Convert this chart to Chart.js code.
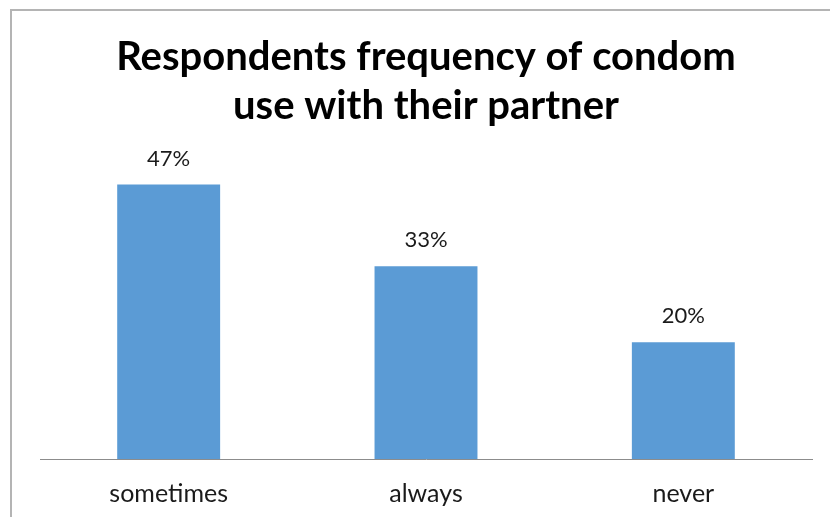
<!DOCTYPE html>
<html>
<head>
<meta charset="utf-8">
<script src="https://cdn.jsdelivr.net/npm/chart.js@4/dist/chart.umd.min.js"></script>
<style>
  html, body { margin: 0; padding: 0; background: #fff; overflow: hidden; }
  #frame { position: absolute; left: 10px; top: 9px; width: 900px; height: 600px; border: 2px solid #b4b4b4; }
  #wrap { position: absolute; left: 0; top: 0; width: 830px; height: 517px; }
</style>
</head>
<body>
<div id="frame"></div>
<div id="wrap"><canvas id="chart" width="830" height="517"></canvas></div>
<script>
// Survey answers and their share of respondents (%)
const categories = ['sometimes', 'always', 'never'];
const shares = [47, 33, 20];
const chartTitle = ['Respondents frequency of condom', 'use with their partner'];

const FONT = 'Lato, "Open Sans", sans-serif';

// Writes the percentage above each bar
const valueLabels = {
  id: 'valueLabels',
  afterDatasetsDraw(chart) {
    const ctx = chart.ctx;
    const meta = chart.getDatasetMeta(0);
    ctx.save();
    ctx.font = '22px ' + FONT;
    ctx.fillStyle = '#1a1a1a';
    ctx.textAlign = 'center';
    ctx.textBaseline = 'alphabetic';
    meta.data.forEach((bar, i) => {
      ctx.fillText(shares[i] + '%', bar.x, bar.y - 19);
    });
    ctx.restore();
  }
};

new Chart(document.getElementById('chart'), {
  type: 'bar',
  data: {
    labels: categories,
    datasets: [{
      data: shares,
      backgroundColor: '#5B9BD5',
      borderWidth: 0,
      categoryPercentage: 1.0,
      barPercentage: 0.4
    }]
  },
  options: {
    responsive: false,
    animation: false,
    layout: { padding: { left: 40, right: 18, top: 33, bottom: -12 } },
    plugins: {
      legend: { display: false },
      tooltip: { enabled: false },
      title: {
        display: true,
        text: chartTitle,
        color: '#000',
        font: { family: FONT, size: 40, weight: 'bold', lineHeight: 1.225 },
        padding: { top: 0, bottom: 36 }
      }
    },
    scales: {
      y: { display: false, min: 0, max: 50 },
      x: {
        grid: { display: false, drawTicks: false },
        border: { display: true, color: '#8c8c8c', width: 1 },
        ticks: { color: '#1a1a1a', font: { family: FONT, size: 25 }, padding: 20 }
      }
    }
  },
  plugins: [valueLabels]
});
</script>
</body>
</html>
